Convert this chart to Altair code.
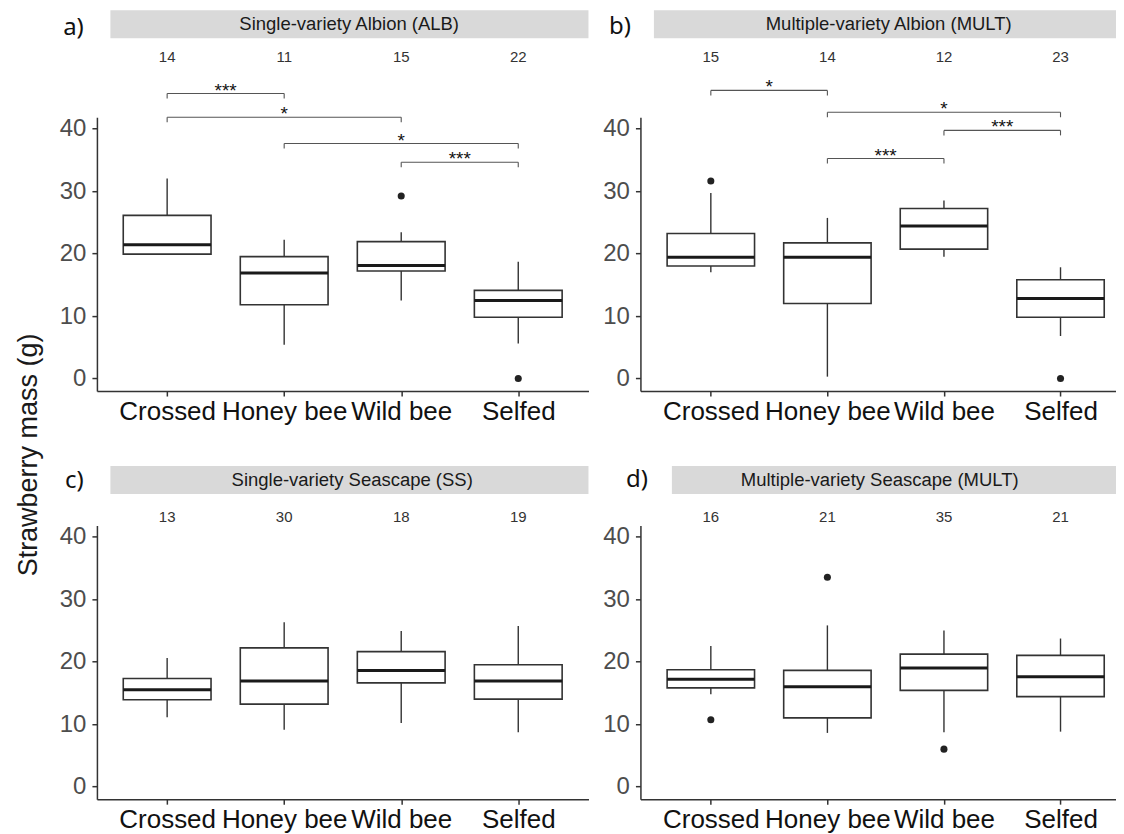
import json
import altair as alt
import pandas as pd

categories = ["Crossed", "Honey bee", "Wild bee", "Selfed"]
positions = [1, 2, 3, 4]

# a) Single-variety Albion (ALB)
a_title = "Single-variety Albion (ALB)"
a_lower = [19.8, 5.4, 12.5, 5.6]
a_q1 = [19.9, 11.8, 17.2, 9.8]
a_median = [21.4, 16.9, 18.1, 12.5]
a_q3 = [26.1, 19.5, 21.9, 14.1]
a_upper = [32.0, 22.2, 23.4, 18.7]
a_out_pos = [3, 4]
a_out_val = [29.2, 0.0]
a_n = [14, 11, 15, 22]
a_br_from = [1, 1, 2, 3]
a_br_to = [2, 3, 4, 4]
a_br_y = [45.6, 41.8, 37.6, 34.6]
a_br_lab = ["***", "*", "*", "***"]

# b) Multiple-variety Albion (MULT)
b_title = "Multiple-variety Albion (MULT)"
b_lower = [17.0, 0.3, 19.5, 6.8]
b_q1 = [18.0, 12.0, 20.7, 9.8]
b_median = [19.4, 19.4, 24.4, 12.8]
b_q3 = [23.2, 21.7, 27.2, 15.8]
b_upper = [29.7, 25.7, 28.5, 17.8]
b_out_pos = [1, 4]
b_out_val = [31.6, 0.0]
b_n = [15, 14, 12, 23]
b_br_from = [1, 2, 3, 2]
b_br_to = [2, 4, 4, 3]
b_br_y = [46.1, 42.6, 39.7, 35.2]
b_br_lab = ["*", "*", "***", "***"]

# c) Single-variety Seascape (SS)
c_title = "Single-variety Seascape (SS)"
c_lower = [11.1, 9.1, 10.2, 8.7]
c_q1 = [13.9, 13.2, 16.6, 14.0]
c_median = [15.5, 16.9, 18.6, 16.9]
c_q3 = [17.3, 22.2, 21.6, 19.5]
c_upper = [20.6, 26.3, 24.9, 25.7]
c_out_pos = []
c_out_val = []
c_n = [13, 30, 18, 19]

# d) Multiple-variety Seascape (MULT)
d_title = "Multiple-variety Seascape (MULT)"
d_lower = [14.8, 8.6, 8.7, 8.8]
d_q1 = [15.8, 11.0, 15.4, 14.4]
d_median = [17.2, 16.0, 19.0, 17.6]
d_q3 = [18.7, 18.6, 21.2, 21.0]
d_upper = [22.5, 25.8, 25.0, 23.7]
d_out_pos = [1, 2, 3]
d_out_val = [10.7, 33.5, 6.0]
d_n = [16, 21, 35, 21]

y_title = "Strawberry mass (g)"
y_ticks = [0, 10, 20, 30, 40]

FONT = "Liberation Sans"
LINE = "#333333"

yscale = alt.Scale(domain=[-2, 41.8], nice=False, zero=False)


def make_panel(title, letter, lower, q1, med, q3, upper, out_pos, out_val, n,
               brackets, width, xdom, geo, ytitle=False):
    xscale = alt.Scale(domain=xdom, nice=False, zero=False)
    xaxis = alt.Axis(values=positions,
                     labelExpr=f"{json.dumps(categories)}[datum.value - 1]",
                     title=None, grid=False, domainColor=LINE, domainWidth=1.5,
                     tickColor=LINE, tickWidth=1.5, tickSize=5,
                     labelFontSize=26, labelFont=FONT, labelColor="#111111",
                     labelPadding=2, labelFlush=False, labelOverlap=False)
    yaxis = alt.Axis(values=y_ticks, title=None, grid=False, domainColor=LINE,
                     domainWidth=1.5, tickColor=LINE, tickWidth=1.5, tickSize=5,
                     labelFontSize=24, labelFont=FONT, labelColor="#4d4d4d",
                     labelPadding=6)
    X = lambda f: alt.X(f, scale=xscale, axis=xaxis)
    Y = lambda f: alt.Y(f, scale=yscale, axis=yaxis)

    box = pd.DataFrame({"cat": categories, "pos": positions, "lower": lower,
                        "q1": q1, "median": med, "q3": q3, "upper": upper})
    base = alt.Chart(box).transform_calculate(
        left="datum.pos - 0.375", right="datum.pos + 0.375")

    whisk = base.mark_rule(color=LINE, strokeWidth=1.4).encode(
        x=X("pos:Q"), y=Y("lower:Q"), y2="upper:Q")
    rect = base.mark_rect(fill="white", stroke=LINE, strokeWidth=1.6).encode(
        x=X("left:Q"), x2="right:Q", y=Y("q1:Q"), y2="q3:Q")
    medl = base.mark_rule(color="#1a1a1a", strokeWidth=3).encode(
        x=X("left:Q"), x2="right:Q", y=Y("median:Q"))
    layers = [whisk, rect, medl]

    if out_pos:
        out = pd.DataFrame({"pos": out_pos, "val": out_val})
        layers.append(alt.Chart(out).mark_circle(size=50, color="#222222", opacity=1).encode(
            x=X("pos:Q"), y=Y("val:Q")))

    cnt = pd.DataFrame({"pos": positions, "n": n})
    layers.append(alt.Chart(cnt).mark_text(fontSize=15, font=FONT, color="#333333",
                                           baseline="middle").encode(
        x=X("pos:Q"), y=alt.value(geo["count_y"]), text="n:Q"))

    if brackets is not None:
        bf, bt, by, bl = brackets
        br = pd.DataFrame({"p_from": bf, "p_to": bt, "yv": by, "label": bl})
        bbase = alt.Chart(br).transform_calculate(
            mid="(datum.p_from + datum.p_to) / 2", ylow="datum.yv - 0.8")
        layers.append(bbase.mark_rule(color="#555555", strokeWidth=1.1).encode(
            x=X("p_from:Q"), x2="p_to:Q", y=Y("yv:Q")))
        layers.append(bbase.transform_fold(["p_from", "p_to"], as_=["end", "xp"])
                      .mark_rule(color="#555555", strokeWidth=1.1).encode(
            x=X("xp:Q"), y=Y("yv:Q"), y2="ylow:Q"))
        layers.append(bbase.mark_text(fontSize=19, font=FONT, color="#111111",
                                      baseline="alphabetic", dy=3).encode(
            x=X("mid:Q"), y=Y("yv:Q"), text="label:N"))

    strip = pd.DataFrame({"label": [title]})
    layers.append(alt.Chart(strip).mark_rect(fill="#d9d9d9").encode(
        x=alt.value(geo["strip_x0"]), x2=alt.value(width),
        y=alt.value(geo["strip_y0"]), y2=alt.value(geo["strip_y1"])))
    layers.append(alt.Chart(strip).mark_text(fontSize=18.5, font=FONT, color="#1a1a1a",
                                             baseline="middle").encode(
        x=alt.value(geo["strip_tx"]),
        y=alt.value((geo["strip_y0"] + geo["strip_y1"]) / 2), text="label:N"))

    let = pd.DataFrame({"label": [letter]})
    layers.append(alt.Chart(let).mark_text(fontSize=24, font="Noto Sans", color="#111111",
                                           baseline="middle", align="center").encode(
        x=alt.value(geo["let_x"]), y=alt.value(geo["let_y"]), text="label:N"))

    if ytitle:
        yt = pd.DataFrame({"label": [y_title]})
        layers.append(alt.Chart(yt).mark_text(fontSize=27, font=FONT, color="#1a1a1a",
                                              angle=270, baseline="middle",
                                              align="center").encode(
            x=alt.value(-67.5), y=alt.value(338), text="label:N"))

    return alt.layer(*layers).properties(width=width, height=274)


LW, RW = 492, 476
LDOM = [0.4, 4.6]
RDOM = [0.396, 4.476]

pa = make_panel(a_title, "a)", a_lower, a_q1, a_median, a_q3, a_upper, a_out_pos, a_out_val,
                a_n, (a_br_from, a_br_to, a_br_y, a_br_lab), LW, LDOM,
                dict(count_y=-60, strip_x0=13.5, strip_y0=-107, strip_y1=-79, strip_tx=252.5,
                     let_x=-23.5, let_y=-89), ytitle=True)
pb = make_panel(b_title, "b)", b_lower, b_q1, b_median, b_q3, b_upper, b_out_pos, b_out_val,
                b_n, (b_br_from, b_br_to, b_br_y, b_br_lab), RW, RDOM,
                dict(count_y=-60, strip_x0=13.5, strip_y0=-107, strip_y1=-79, strip_tx=248.5,
                     let_x=-20.5, let_y=-90))
pc = make_panel(c_title, "c)", c_lower, c_q1, c_median, c_q3, c_upper, c_out_pos, c_out_val,
                c_n, None, LW, LDOM,
                dict(count_y=-8, strip_x0=13.5, strip_y0=-59.5, strip_y1=-31.5, strip_tx=255.5,
                     let_x=-22.5, let_y=-44))
pd_ = make_panel(d_title, "d)", d_lower, d_q1, d_median, d_q3, d_upper, d_out_pos, d_out_val,
                 d_n, None, RW, RDOM,
                 dict(count_y=-8, strip_x0=31.5, strip_y0=-59.5, strip_y1=-31.5, strip_tx=239.5,
                      let_x=-3.5, let_y=-45.5))

chart = alt.concat(pa, pb, pc, pd_, columns=2, bounds="flush",
                   spacing={"row": 134.5, "column": 52}).properties(
    padding={"left": 7, "top": 2, "right": 0, "bottom": 0},
    background="white",
).configure_view(stroke=None)

chart.save("out.html", embed_options={"renderer": "svg", "actions": False})
